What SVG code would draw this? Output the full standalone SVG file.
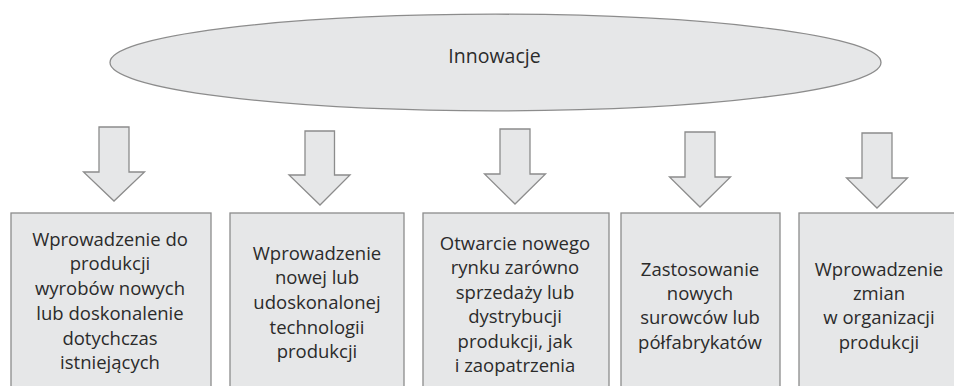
<svg xmlns="http://www.w3.org/2000/svg" width="954" height="386" viewBox="0 0 954 386">
<style>
.shape{fill:#e6e7e8;stroke:#8c8c8c;stroke-width:1.3}
.t{font-family:"Open Sans","Noto Sans",sans-serif;font-size:18.5px;fill:#2b2b2b;text-anchor:middle}
</style>
<rect width="954" height="386" fill="#ffffff"/>
<g id="innowacje">
<ellipse class="shape" cx="495.5" cy="62.5" rx="385.5" ry="48.3"/>
<text class="t" x="494.5" y="63.3" style="font-size:19.5px">Innowacje</text>
</g>
<g id="connectors">
<polygon class="shape" points="99,127 129,127 129,172 144.5,172 114,201 83.5,172 99,172"/>
<polygon class="shape" points="305,131 334.5,131 334.5,175 350,175 320,205 289,175 305,175"/>
<polygon class="shape" points="500,129 530,129 530,174 545.5,174 515,204 484.5,174 500,174"/>
<polygon class="shape" points="685,132 715,132 715,177 730.5,177 700,207 669.5,177 685,177"/>
<polygon class="shape" points="862,133 892,133 892,178 907.5,178 877,208 846.5,178 862,178"/>
</g>
<g id="box1">
<rect class="shape" x="11" y="213" width="200" height="190"/>
<text class="t"><tspan x="110" y="245.7">Wprowadzenie do</tspan><tspan x="110" y="270.4">produkcji</tspan><tspan x="110" y="295.1">wyrobów nowych</tspan><tspan x="110" y="319.8">lub doskonalenie</tspan><tspan x="110" y="344.5">dotychczas</tspan><tspan x="110" y="369.2">istniejących</tspan></text>
</g>
<g id="box2">
<rect class="shape" x="230" y="213" width="174" height="190"/>
<text class="t"><tspan x="317" y="259.5">Wprowadzenie</tspan><tspan x="317" y="284.2">nowej lub</tspan><tspan x="317" y="308.9">udoskonalonej</tspan><tspan x="317" y="333.6">technologii</tspan><tspan x="317" y="358.3">produkcji</tspan></text>
</g>
<g id="box3">
<rect class="shape" x="423" y="213" width="186" height="190"/>
<text class="t"><tspan x="515" y="250">Otwarcie nowego</tspan><tspan x="515" y="274.4">rynku zarówno</tspan><tspan x="515" y="298.8">sprzedaży lub</tspan><tspan x="515" y="323.2">dystrybucji</tspan><tspan x="515" y="347.6">produkcji, jak</tspan><tspan x="515" y="372">i zaopatrzenia</tspan></text>
</g>
<g id="box4">
<rect class="shape" x="621" y="213" width="159" height="190"/>
<text class="t"><tspan x="700" y="276">Zastosowanie</tspan><tspan x="700" y="300.2">nowych</tspan><tspan x="700" y="324.4">surowców lub</tspan><tspan x="700" y="348.6">półfabrykatów</tspan></text>
</g>
<g id="box5">
<rect class="shape" x="799" y="213" width="162" height="190"/>
<text class="t"><tspan x="879" y="276">Wprowadzenie</tspan><tspan x="879" y="300.2">zmian</tspan><tspan x="879" y="324.4">w organizacji</tspan><tspan x="879" y="348.6">produkcji</tspan></text>
</g>
</svg>
